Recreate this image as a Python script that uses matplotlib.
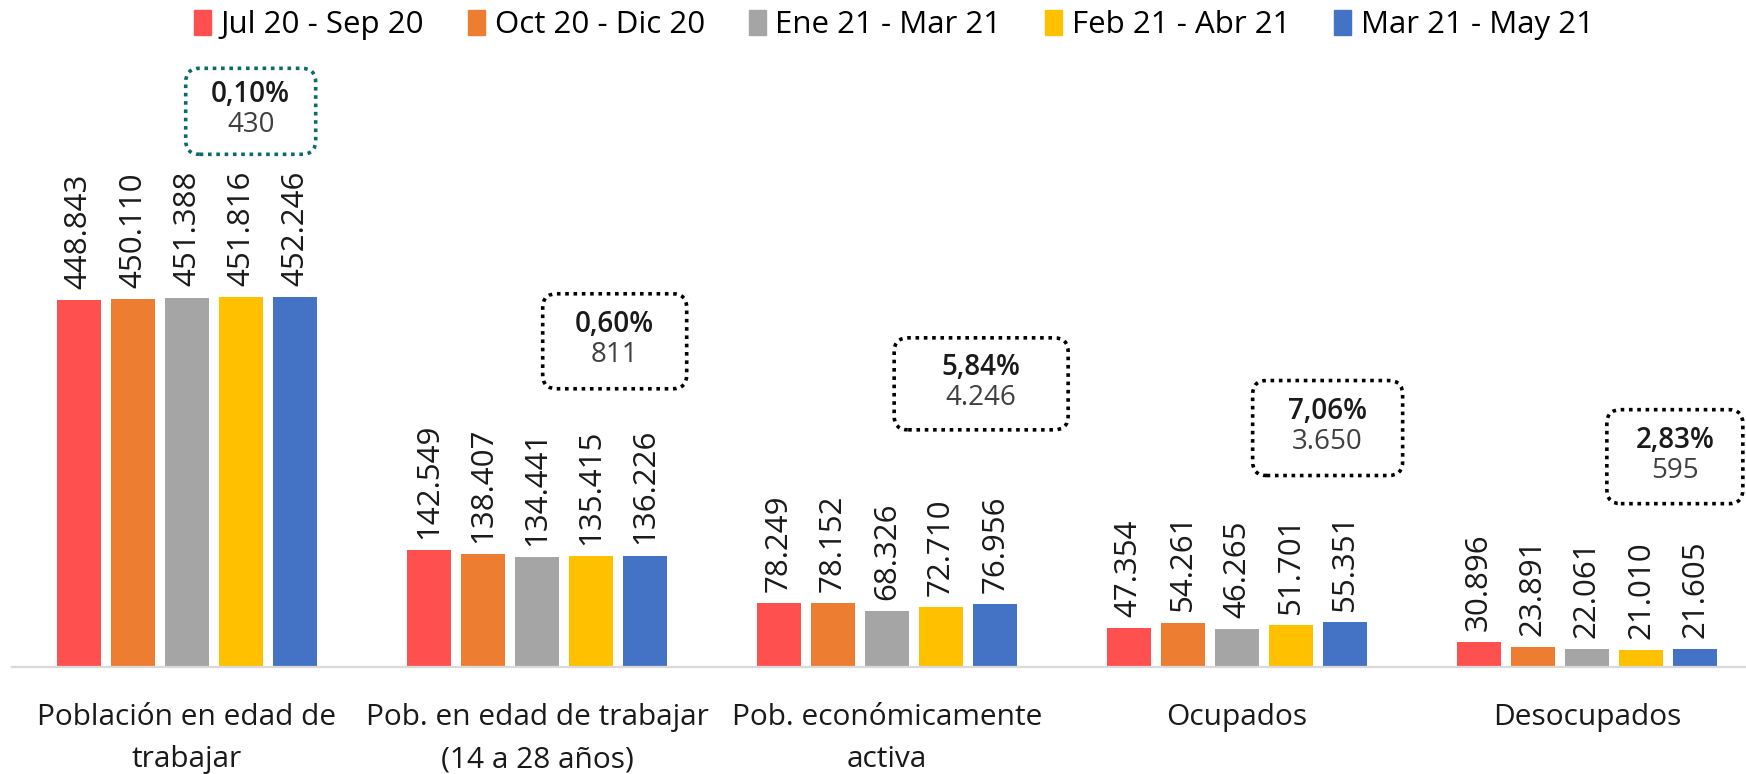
import matplotlib
matplotlib.use("Agg")
import matplotlib.pyplot as plt
import matplotlib.transforms as mtransforms
from matplotlib.patches import FancyBboxPatch, Rectangle
import numpy as np

plt.rcParams["font.family"] = ["Open Sans", "DejaVu Sans"]

categories = ["Población en edad de\ntrabajar", "Pob. en edad de trabajar\n(14 a 28 años)",
              "Pob. económicamente\nactiva", "Ocupados", "Desocupados"]
series_names = ["Jul 20 - Sep 20", "Oct 20 - Dic 20", "Ene 21 - Mar 21",
                "Feb 21 - Abr 21", "Mar 21 - May 21"]
jul_sep_20 = [448843, 142549, 78249, 47354, 30896]
oct_dic_20 = [450110, 138407, 78152, 54261, 23891]
ene_mar_21 = [451388, 134441, 68326, 46265, 22061]
feb_abr_21 = [451816, 135415, 72710, 51701, 21010]
mar_may_21 = [452246, 136226, 76956, 55351, 21605]
pct_change = ["0,10%", "0,60%", "5,84%", "7,06%", "2,83%"]
abs_change = ["430", "811", "4.246", "3.650", "595"]

series = [jul_sep_20, oct_dic_20, ene_mar_21, feb_abr_21, mar_may_21]
colors = ["#FF5050", "#ED7D31", "#A5A5A5", "#FFC000", "#4472C4"]

fig = plt.figure(figsize=(17.46, 7.74), dpi=100)
ax = fig.add_axes([12 / 1746, 107 / 774, 1750 / 1746, 667 / 774])
ax.set_xlim(-0.5, 4.5)
ax.set_ylim(0, 815000)

x = np.arange(len(categories))
pitch = 0.1545
width = 0.1275
for i, (vals, col, name) in enumerate(zip(series, colors, series_names)):
    pos = x + (i - 2) * pitch
    bars = ax.bar(pos, vals, width, color=col, label=name, zorder=2)
    labels = [f"{v:,}".replace(",", ".") for v in vals]
    ax.bar_label(bars, labels=labels, rotation=90, padding=8, fontsize=22.5,
                 color="#1a1a1a")

# annotation boxes (position in data coords, size in inches)
box_x = [0.182, 1.222, 2.269, 3.259, 4.251]
box_y = [679000, 398000, 346000, 292000, 257000]
box_w = [1.30, 1.44, 1.74, 1.50, 1.36]
box_h = [0.86, 0.95, 0.92, 0.95, 0.94]
box_col = ["#0B6B66", "black", "black", "black", "black"]
for bx, by, bw, bh, bc, p, a in zip(box_x, box_y, box_w, box_h, box_col, pct_change, abs_change):
    tr = fig.dpi_scale_trans + mtransforms.ScaledTranslation(bx, by, ax.transData)
    patch = FancyBboxPatch((-bw / 2, -bh / 2), bw, bh,
                           boxstyle="round,pad=0,rounding_size=0.14",
                           transform=tr, facecolor="white", edgecolor=bc,
                           linewidth=2.6, linestyle=(0, (1.0, 1.3)), zorder=3)
    ax.add_patch(patch)
    ax.annotate(p, (bx, by), xytext=(0, 12), textcoords="offset points",
                ha="center", va="center", fontsize=20, fontweight="semibold",
                color="#1a1a1a", zorder=4)
    ax.annotate(a, (bx, by), xytext=(0, -10), textcoords="offset points",
                ha="center", va="center", fontsize=20, color="#404040", zorder=4)

ax.set_xticks(x)
ax.set_xticklabels(categories, fontsize=21.5, color="#1a1a1a", linespacing=1.6)
ax.tick_params(axis="x", length=0, pad=26)
ax.set_yticks([])
for s in ["top", "right", "left"]:
    ax.spines[s].set_visible(False)
ax.spines["bottom"].set_color("#D9D9D9")
ax.spines["bottom"].set_linewidth(1.6)

handles = [Rectangle((0, 0), 1, 1, color=c) for c in colors]
fig.legend(handles, series_names, loc="center", bbox_to_anchor=(0.512, 0.968),
           ncol=5, frameon=False, fontsize=22.5, handlelength=0.55, handleheight=0.85,
           handletextpad=0.3, columnspacing=1.4)

fig.savefig("out.png", dpi=100)
